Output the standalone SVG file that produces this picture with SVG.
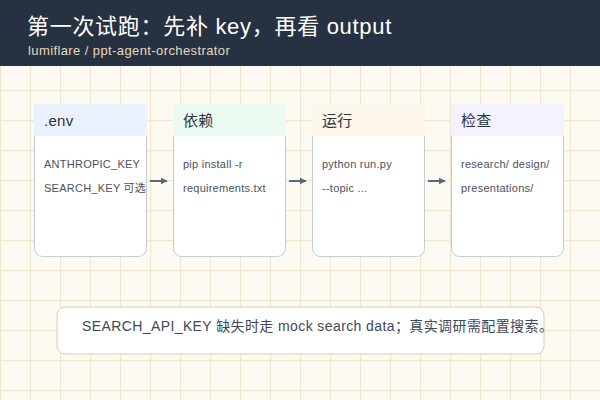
<svg xmlns="http://www.w3.org/2000/svg" width="600" height="400" viewBox="0 0 600 400">
<defs>
<pattern id="grid" width="30" height="30" patternUnits="userSpaceOnUse">
<path d="M0.5 0V30M0 0.5H30" fill="none" stroke="#f0e5cf" stroke-width="1.3"/>
</pattern>
<marker id="arr" viewBox="0 0 10 10" refX="9" refY="5" markerWidth="7" markerHeight="7" markerUnits="userSpaceOnUse" orient="auto">
<path d="M0 0L10 5L0 10z" fill="#5b6878"/>
</marker>
</defs>
<style>
text{font-family:"Liberation Sans","Noto Sans CJK SC",sans-serif}
.box{fill:#fff;stroke:#c3cbd3;stroke-width:1}
.ht{font-size:15px;fill:#2a3240;letter-spacing:0.3px}
.bt{font-size:11px;fill:#4a5260;letter-spacing:0.25px}
.con{stroke:#5b6878;stroke-width:2;fill:none}
</style>
<rect width="600" height="400" fill="#fdfaf2"/>
<rect width="600" height="400" fill="url(#grid)"/>
<rect width="600" height="66" fill="#263141"/>
<text x="27" y="34" font-size="22" letter-spacing="0.7" fill="#ffffff">第一次试跑：先补 key，再看 output</text>
<text x="28" y="55" font-size="13" letter-spacing="0.4" fill="#e6d9bd">lumiflare / ppt-agent-orchestrator</text>
<g id="node-env">
<rect class="box" x="34.5" y="104.5" width="112" height="152" rx="8"/>
<rect x="34" y="104" width="113" height="32" fill="#e8f1fd"/>
<text class="ht" x="44" y="126">.env</text>
<text class="bt" x="44" y="168">ANTHROPIC_KEY</text>
<text class="bt" x="44" y="192">SEARCH_KEY 可选</text>
</g>
<g id="node-deps">
<rect class="box" x="173.5" y="104.5" width="112" height="152" rx="8"/>
<rect x="173" y="104" width="113" height="32" fill="#ebfbf1"/>
<text class="ht" x="183" y="126">依赖</text>
<text class="bt" x="183" y="168">pip install -r</text>
<text class="bt" x="183" y="192">requirements.txt</text>
</g>
<g id="node-run">
<rect class="box" x="312.5" y="104.5" width="112" height="152" rx="8"/>
<rect x="312" y="104" width="113" height="32" fill="#fcf5ea"/>
<text class="ht" x="322" y="126">运行</text>
<text class="bt" x="322" y="168">python run.py</text>
<text class="bt" x="322" y="192">--topic ...</text>
</g>
<g id="node-check">
<rect class="box" x="451.5" y="104.5" width="112" height="152" rx="8"/>
<rect x="451" y="104" width="113" height="32" fill="#f3f2fe"/>
<text class="ht" x="461" y="126">检查</text>
<text class="bt" x="461" y="168">research/ design/</text>
<text class="bt" x="461" y="192">presentations/</text>
</g>
<g id="connectors">
<line class="con" x1="150" y1="181" x2="167" y2="181" marker-end="url(#arr)"/>
<line class="con" x1="289" y1="181" x2="306" y2="181" marker-end="url(#arr)"/>
<line class="con" x1="428" y1="181" x2="445" y2="181" marker-end="url(#arr)"/>
</g>
<g id="note">
<rect x="57" y="307" width="487" height="47" rx="8" fill="#fff" stroke="#d8cdb4" stroke-width="1"/>
<text x="82" y="331" font-size="14" letter-spacing="0.4" fill="#3f4757">SEARCH_API_KEY 缺失时走 mock search data；真实调研需配置搜索。</text>
</g>
</svg>
